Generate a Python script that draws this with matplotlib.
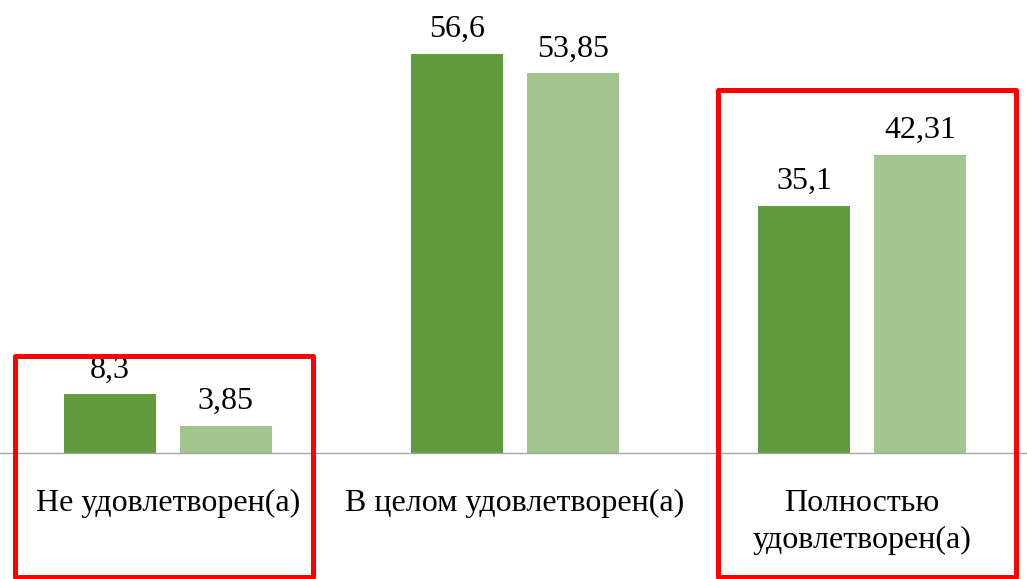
import matplotlib
matplotlib.use("Agg")
import matplotlib.pyplot as plt
from matplotlib.patches import Rectangle

categories = ["Не удовлетворен(а)", "В целом удовлетворен(а)", "Полностью\nудовлетворен(а)"]
series_a = [8.3, 56.6, 35.1]
series_b = [3.85, 53.85, 42.31]
labels_a = ["8,3", "56,6", "35,1"]
labels_b = ["3,85", "53,85", "42,31"]

plt.rcParams['font.family'] = ['Liberation Serif', 'DejaVu Serif']

fig = plt.figure(figsize=(10.27, 5.79), dpi=100)
ax = fig.add_axes([0, (579 - 453) / 579, 1, 453 / 579])
x = list(range(len(categories)))
w = 0.265
off = 0.167
dark = "#629a3e"
light = "#a3c48f"
ba = ax.bar([i - off for i in x], series_a, w, color=dark)
bb = ax.bar([i + off for i in x], series_b, w, color=light)
for rect, lab in zip(ba, labels_a):
    ax.annotate(lab, (rect.get_x() + rect.get_width() / 2, rect.get_height()),
                xytext=(0, 7), textcoords="offset points", ha="center", va="bottom", fontsize=23)
for rect, lab in zip(bb, labels_b):
    ax.annotate(lab, (rect.get_x() + rect.get_width() / 2, rect.get_height()),
                xytext=(0, 7), textcoords="offset points", ha="center", va="bottom", fontsize=23)

ax.set_xlim(-0.484, 2.4755)
ax.set_ylim(0, 64.26)
for s in ["top", "right", "left"]:
    ax.spines[s].set_visible(False)
ax.spines["bottom"].set_color("#a6a6a6")
ax.spines["bottom"].set_linewidth(1)
ax.set_yticks([])
ax.set_xticks(x)
ax.set_xticklabels(categories, fontsize=23, linespacing=1.35)
ax.tick_params(axis="x", length=0, pad=26)
for t in ax.get_xticklabels():
    t.set_va("top")

# red highlight boxes (figure pixel coordinates)
W, H = 1027, 579
for (x0, y0, x1, y1) in [(14.5, 355.5, 312.5, 577), (717.5, 89.5, 1016, 577)]:
    fig.patches.append(Rectangle((x0 / W, 1 - y1 / H), (x1 - x0) / W, (y1 - y0) / H,
                                 transform=fig.transFigure, fill=False,
                                 edgecolor="#ff0000", linewidth=3.6, joinstyle="round"))

fig.savefig("out.png", dpi=100)
